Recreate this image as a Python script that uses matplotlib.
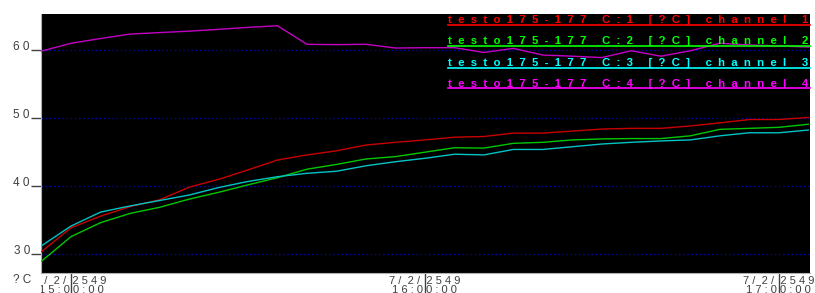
import matplotlib
matplotlib.use('Agg')
import matplotlib.pyplot as plt
from matplotlib.transforms import Bbox
from matplotlib.lines import Line2D

times = ['14:55', '15:00', '15:05', '15:10', '15:15', '15:20', '15:25', '15:30', '15:35',
         '15:40', '15:45', '15:50', '15:55', '16:00', '16:05', '16:10', '16:15', '16:20',
         '16:25', '16:30', '16:35', '16:40', '16:45', '16:50', '16:55', '17:00', '17:05']

ch1 = [30.4, 33.9, 35.6, 37.0, 38.0, 39.85, 41.0, 42.4, 43.85, 44.6, 45.2, 46.05, 46.45, 46.8,
       47.2, 47.3, 47.8, 47.8, 48.1, 48.4, 48.5, 48.5, 48.85, 49.3, 49.8, 49.8, 50.1]
ch2 = [29.0, 32.6, 34.65, 36.0, 36.9, 38.1, 39.1, 40.2, 41.25, 42.5, 43.2, 44.0, 44.35, 45.0,
       45.65, 45.6, 46.3, 46.45, 46.8, 46.95, 47.0, 47.0, 47.4, 48.35, 48.5, 48.65, 49.1]
ch3 = [31.26, 34.15, 36.2, 37.1, 37.9, 38.7, 39.8, 40.7, 41.4, 41.9, 42.2, 43.0, 43.6, 44.1,
       44.7, 44.6, 45.4, 45.4, 45.8, 46.2, 46.45, 46.65, 46.8, 47.4, 47.85, 47.85, 48.25]
ch4 = [59.85, 61.0, 61.7, 62.35, 62.57, 62.78, 63.05, 63.33, 63.57, 60.85, 60.8, 60.85, 60.3,
       60.35, 60.35, 59.65, 60.25, 59.27, 59.1, 58.9, 59.9, 59.1, 59.9, 61.0, 60.75, 60.6, 60.45]

channel_names = ['testo175-177 C:1 [?C] channel 1', 'testo175-177 C:2 [?C] channel 2',
                 'testo175-177 C:3 [?C] channel 3', 'testo175-177 C:4 [?C] channel 4']
y_ticks = [30, 40, 50, 60]
x_tick_times = ['15:00', '16:00', '17:00']
x_tick_date = '7/ 2/ 2549'
unit_label = '?C'

line_colors = ['#c80000', '#00c800', '#00c4c4', '#c400c4']
text_colors = ['#ff0000', '#00ff00', '#00ffff', '#ff00ff']


def to_min(t):
    h, m = t.split(':')
    return (int(h) - 15) * 60 + int(m)


def spaced(s, gap=' '):
    return gap.join(list(s))


x = [to_min(t) for t in times]

W, H = 815, 293
fig = plt.figure(figsize=(W / 100, H / 100), dpi=100)
fig.patch.set_facecolor('white')
ax = fig.add_axes([41 / W, 20 / H, 769 / W, 259 / H])
ax.set_facecolor('black')

for yv in y_ticks:
    ax.axhline(yv, color='#0000b0', linestyle=(0, (1, 2)), linewidth=1, zorder=1)

# magenta first so the others sit on top
for vals, c in zip([ch4, ch1, ch2, ch3], [line_colors[3], line_colors[0], line_colors[1], line_colors[2]]):
    ax.plot(x, vals, color=c, linewidth=1, zorder=3)

ax.set_xlim(-5.1, 125.3)
ax.set_ylim(27.25, 65.3)

for side in ['top', 'right']:
    ax.spines[side].set_visible(False)
for side in ['left', 'bottom']:
    ax.spines[side].set_color('#b0b0b0')

ax.set_yticks(y_ticks)
ax.set_yticklabels([spaced(str(v)) for v in y_ticks], fontsize=8.5, color='#404040',
                   family='Liberation Sans', va='baseline')
ax.tick_params(axis='y', direction='out', length=7, width=1, color='#404040', pad=1)

ax.set_xticks([to_min(t) for t in x_tick_times])
ax.set_xticklabels([])
ax.tick_params(axis='x', direction='out', length=16, width=1, color='#404040')

clip = Bbox.from_extents(41, 0, W, H)
for t in x_tick_times:
    lbl = spaced(x_tick_date).replace('   ', '  ') + '\n' + spaced(t + ':00')
    txt = ax.text(to_min(t), -0.012, lbl, transform=ax.get_xaxis_transform(), ha='center',
                  va='top', fontsize=8, color='#404040', family='Liberation Sans',
                  linespacing=0.8)
    txt.set_clip_box(clip)
    txt.set_clip_on(True)

fig.text(13 / W, 1 - 283 / H, spaced(unit_label), fontsize=8.5, color='#404040',
         family='Liberation Sans', va='baseline')

legend_base = [23, 44.5, 66, 87]
for name, c, yb in zip(channel_names, text_colors, legend_base):
    fig.text(448 / W, 1 - yb / H, spaced(name, '  '),
             fontsize=8.2, color=c, fontweight='bold', family='Liberation Sans', va='baseline')
    fig.add_artist(Line2D([448 / W, 810 / W], [1 - (yb + 1.5) / H, 1 - (yb + 1.5) / H],
                          color=c, linewidth=1.2))

fig.savefig('out.png', dpi=100, facecolor='white')
